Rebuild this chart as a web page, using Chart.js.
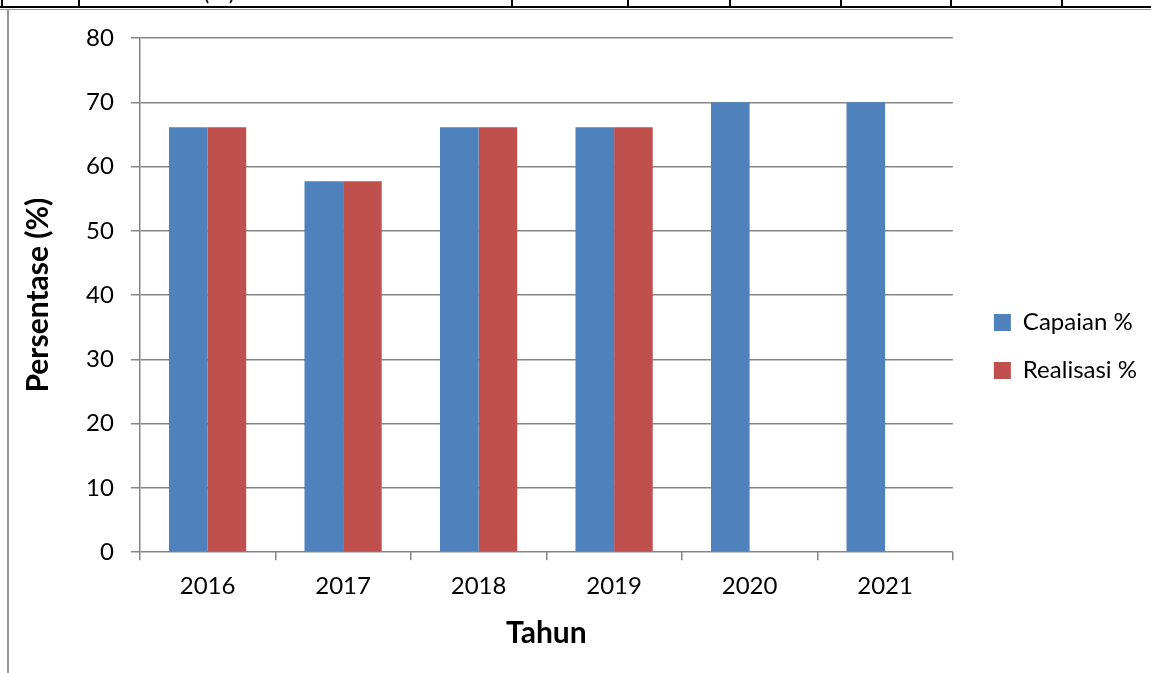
<!DOCTYPE html>
<html>
<head>
<meta charset="utf-8">
<script src="https://cdn.jsdelivr.net/npm/chart.js@4"></script>
<style>
  body { margin: 0; background: #fff; }
  #wrap { position: relative; width: 1151px; height: 673px; overflow: hidden; }
  #chart { position: absolute; left: 0; top: 0; }
  .tline { position: absolute; background: #000; }
  #cut { position: absolute; left: 203px; top: -24px; font: 24px Lato, sans-serif; color: #000; }
</style>
</head>
<body>
<div id="wrap">
  <canvas id="chart" width="1151" height="673"></canvas>
  <!-- bits of the table above the chart -->
  <div id="cut">(%)</div>
  <div class="tline" style="left:0;top:6px;width:1151px;height:2px"></div>
  <div class="tline" style="left:0;top:9px;width:1151px;height:1px;background:#999"></div>
  <div class="tline" style="left:7px;top:9px;width:2px;height:664px;background:#999"></div>
  <div class="tline" style="left:1px;top:0;width:2px;height:7px"></div>
  <div class="tline" style="left:78px;top:0;width:2px;height:7px"></div>
  <div class="tline" style="left:511px;top:0;width:2px;height:7px"></div>
  <div class="tline" style="left:627px;top:0;width:2px;height:7px"></div>
  <div class="tline" style="left:729px;top:0;width:2px;height:7px"></div>
  <div class="tline" style="left:840px;top:0;width:2px;height:7px"></div>
  <div class="tline" style="left:950px;top:0;width:2px;height:7px"></div>
  <div class="tline" style="left:1061px;top:0;width:2px;height:7px"></div>
</div>
<script>
// data
var tahun = ['2016', '2017', '2018', '2019', '2020', '2021'];
var capaian = [66.1, 57.7, 66.1, 66.1, 70, 70];
var realisasi = [66.1, 57.7, 66.1, 66.1, null, null];
var yTicks = [0, 10, 20, 30, 40, 50, 60, 70, 80];

var font = 'Lato, "Open Sans", sans-serif';

// push the legend a bit further from the plot, like the original
var legendGap = {
  id: 'legendGap',
  afterLayout: function (chart) {
    chart.legend.left += 17;
    chart.legend.right += 17;
  }
};

var ctx = document.getElementById('chart').getContext('2d');
var chart = new Chart(ctx, {
  type: 'bar',
  data: {
    labels: tahun,
    datasets: [{
      label: 'Capaian %',
      data: capaian,
      backgroundColor: '#4F81BD',
      categoryPercentage: 0.57,
      barPercentage: 1
    }, {
      label: 'Realisasi %',
      data: realisasi,
      backgroundColor: '#C0504D',
      categoryPercentage: 0.57,
      barPercentage: 1
    }]
  },
  options: {
    responsive: false,
    animation: false,
    layout: { padding: { left: 16, top: 38, right: 21, bottom: 18 } },
    plugins: {
      tooltip: { enabled: false },
      legend: {
        position: 'right',
        align: 'center',
        labels: {
          boxWidth: 17,
          boxHeight: 17,
          padding: 24,
          color: '#000',
          font: { family: font, size: 24 }
        }
      }
    },
    scales: {
      x: {
        grid: { display: true, drawOnChartArea: false, offset: true, color: '#868686', lineWidth: 1.5, tickLength: 8 },
        border: { display: false },
        ticks: { color: '#000', font: { family: font, size: 24 }, padding: 12 },
        title: { display: true, text: 'Tahun', color: '#000', font: { family: font, size: 30, weight: 'bold' }, padding: { top: 2 } }
      },
      y: {
        min: 0,
        max: 80,
        afterBuildTicks: function (ax) { ax.ticks = yTicks.map(function (v) { return { value: v }; }); },
        grid: { color: '#868686', lineWidth: 1.5, tickLength: 9 },
        border: { color: '#868686', width: 1.5 },
        ticks: { color: '#000', font: { family: font, size: 24 }, padding: 17 },
        title: { display: true, text: 'Persentase (%)', color: '#000', font: { family: font, size: 30, weight: 'bold' }, padding: { bottom: 13 } }
      }
    }
  },
  plugins: [legendGap]
});
</script>
</body>
</html>
